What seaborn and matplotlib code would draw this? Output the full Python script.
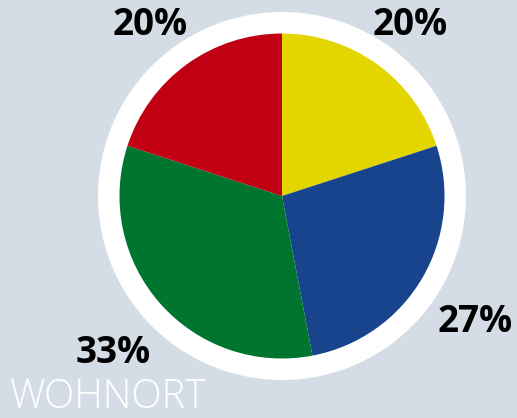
import matplotlib
matplotlib.use("Agg")
import matplotlib.pyplot as plt
import seaborn as sns

# shares, clockwise from 12 o'clock
categories = ["Gelb", "Blau", "Grün", "Rot"]
shares = [20, 27, 33, 20]
labels = ["20%", "27%", "33%", "20%"]
colors = ["#e2d500", "#17448c", "#00752f", "#c10013"]
title = "WOHNORT"

sns.set_theme(style="white")
plt.rcParams["font.family"] = ["Open Sans", "DejaVu Sans"]

bg = "#d4dde6"
W, H = 517, 418
fig = plt.figure(figsize=(W / 100, H / 100), dpi=100, facecolor=bg)
ax = fig.add_axes([0, 0, 1, 1])
ax.set_facecolor(bg)

cx, cy = 282, H - 196
# white ring behind the pie
ax.pie([1], colors=["white"], radius=184, center=(cx, cy),
       wedgeprops=dict(linewidth=0))
ax.pie(shares, colors=colors, radius=162.5, center=(cx, cy),
       startangle=90, counterclock=False,
       wedgeprops=dict(linewidth=0))

ax.set_xlim(0, W)
ax.set_ylim(0, H)
ax.set_aspect("equal")
ax.axis("off")

label_pos = [(410, 25), (475, 322), (113, 353), (150, 25)]
for (x, y), lab in zip(label_pos, labels):
    ax.text(x, H - y, lab, ha="center", va="center", fontsize=26.5,
            fontweight="bold", color="black")

ax.text(9, H - 398, title, ha="left", va="center", fontsize=28.5,
        fontweight="light", color="white")

fig.savefig("out.png", dpi=100, facecolor=bg)
